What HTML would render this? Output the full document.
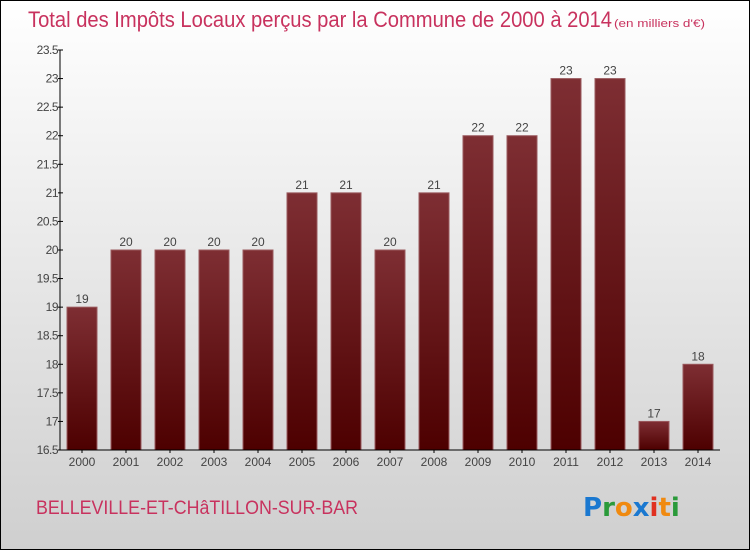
<!DOCTYPE html>
<html><head><meta charset="utf-8"><style>
body{margin:0}
#wrap{position:relative;width:750px;height:550px;box-sizing:border-box;border:1px solid #000;background:linear-gradient(#fff,#cfcfcf);font-family:"Liberation Sans",sans-serif;overflow:hidden}
</style></head><body>
<div id="wrap">
<svg id="chart" width="750" height="550" style="position:absolute;left:-1px;top:-1px">
<defs><linearGradient id="bg" x1="0" y1="0" x2="0" y2="1"><stop offset="0" stop-color="#7e2e33"/><stop offset="1" stop-color="#4d0000"/></linearGradient></defs>
<text x="28" y="27" font-size="22" fill="#c8325e" textLength="584" lengthAdjust="spacingAndGlyphs">Total des Impôts Locaux perçus par la Commune de 2000 à 2014</text>
<text x="614" y="27" font-size="11" fill="#c8325e" textLength="91" lengthAdjust="spacingAndGlyphs">(en milliers d'€)</text>
<text x="36" y="514" font-size="19" fill="#c8325e" textLength="322" lengthAdjust="spacingAndGlyphs">BELLEVILLE-ET-CHâTILLON-SUR-BAR</text>
<g font-size="26" font-weight="bold" font-family="'DejaVu Sans',sans-serif">
<text x="583" y="516"><tspan fill="#1a78d0">P</tspan><tspan fill="#2a9a3a">r</tspan><tspan fill="#f08a10">o</tspan><tspan fill="#1a78d0">x</tspan><tspan fill="#e03020">i</tspan><tspan fill="#f08a10">t</tspan><tspan fill="#2a9a3a">i</tspan></text></g>
<g id="plot"></g>
</svg></div>
<script>
const categories=["2000","2001","2002","2003","2004","2005","2006","2007","2008","2009","2010","2011","2012","2013","2014"];
const values=[19,20,20,20,20,21,21,20,21,22,22,23,23,17,18];
const yTicks=[16.5,17,17.5,18,18.5,19,19.5,20,20.5,21,21.5,22,22.5,23,23.5];
const ns="http://www.w3.org/2000/svg";
const g=document.getElementById('plot');
const x0=60,x1=720,yMin=16.5,yMax=23.5,yTop=50,yBot=450;
const band=(x1-x0)/categories.length;
const y=v=>yBot-(v-yMin)/(yMax-yMin)*(yBot-yTop);
const xc=i=>x0+band*(i+0.5);
function mk(t,a){const e=document.createElementNS(ns,t);for(const k in a)e.setAttribute(k,a[k]);g.appendChild(e);return e;}
values.forEach((v,i)=>{
 const r=mk('rect',{x:xc(i)-15,y:y(v),width:30,height:yBot-y(v),fill:'url(#bg)',stroke:'#9a5a5e','stroke-width':1});
 
 
 const t=mk('text',{x:xc(i),y:y(v)-4,'text-anchor':'middle','font-size':12,fill:'#444'});t.textContent=v;
 
 
 const c=mk('text',{x:xc(i),y:466,'text-anchor':'middle','font-size':12,fill:'#444'});c.textContent=categories[i];
 
 
 mk('line',{x1:xc(i),x2:xc(i),y1:yBot,y2:yBot+3,stroke:'#000'});
});
yTicks.forEach(v=>{
 mk('line',{x1:x0-2,x2:x0+3,y1:y(v),y2:y(v),stroke:'#000'});
 const t=mk('text',{x:x0-2,y:y(v)+4,'text-anchor':'end','font-size':12,fill:'#444','letter-spacing':'-0.5'});t.textContent=v;
 
 
});
const ya=mk('line',{x1:x0,x2:x0,y1:yTop,y2:yBot,stroke:'#000'});


const xa=mk('line',{x1:x0,x2:x1,y1:yBot,y2:yBot,stroke:'#000'});


</script>
</body></html>
